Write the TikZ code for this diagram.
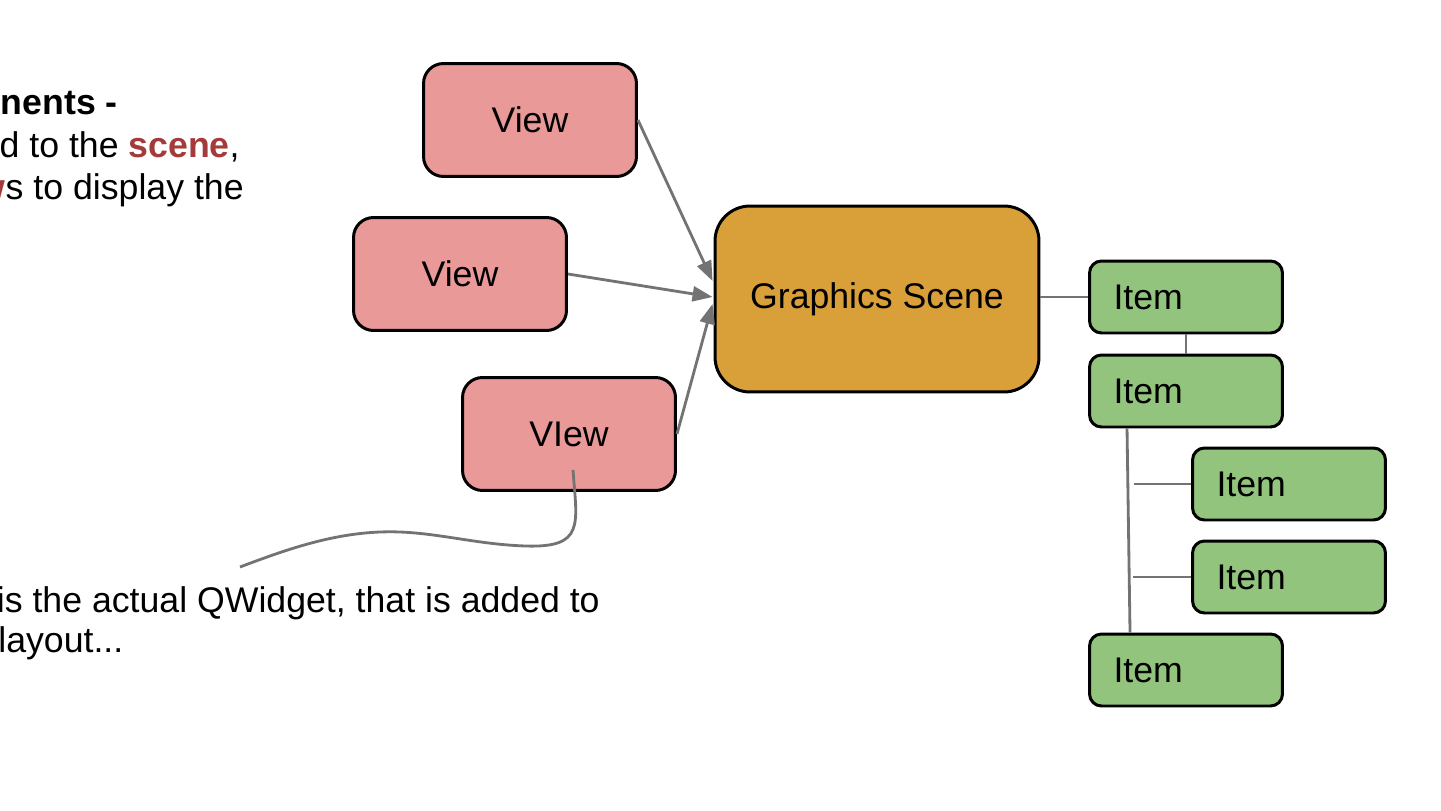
\documentclass[tikz,border=0pt]{standalone}
\usepackage{fontspec}
\setmainfont{Liberation Sans}
\usetikzlibrary{arrows.meta,calc}

\definecolor{viewred}{HTML}{EA9999}
\definecolor{sceneorange}{HTML}{D9A03A}
\definecolor{itemgreen}{HTML}{93C47D}
\definecolor{linkgray}{HTML}{737373}
\definecolor{hilite}{HTML}{A33B3B}

\begin{document}
\begin{tikzpicture}[
  x=0.02cm, y=-0.02cm,
  every node/.style={inner sep=1pt, font=\fontsize{20.3pt}{24pt}\selectfont},
  view/.style={rectangle, draw, line width=1.7pt, rounded corners=0.4cm,
    fill=viewred, minimum width=4.26cm, minimum height=2.26cm},
  scene/.style={rectangle, draw, line width=1.7pt, rounded corners=0.7cm,
    fill=sceneorange, minimum width=6.48cm, minimum height=3.72cm},
  item/.style={rectangle, draw, line width=1.7pt, rounded corners=0.24cm,
    fill=itemgreen, text width=2.9cm, inner xsep=0.48cm, align=left,
    minimum height=1.44cm},
  note/.style={inner sep=0pt},
  % gray connectors: arrows from the views, plain lines in the item tree
  arrow/.style={draw=linkgray, line width=1.6pt,
    -{Triangle[length=0.4cm, width=0.3cm]}},
  link/.style={draw=linkgray, line width=1.6pt}]

  \useasboundingbox (0,0) rectangle (1441,811);
  \clip (0,0) rectangle (1441,811);

  % vertices
  \node[view]  (v1)    at (530,120)  {View};
  \node[view]  (v2)    at (460,274)  {View};
  \node[view]  (v3)    at (569,434)  {VIew};
  \node[scene] (scene) at (877,299)  {Graphics Scene};
  \node[item]  (i1)    at (1186,297) {Item};
  \node[item]  (i2)    at (1186,391) {Item};
  \node[item]  (i3)    at (1289,484) {Item};
  \node[item]  (i4)    at (1289,577) {Item};
  \node[item]  (i5)    at (1186,670) {Item};

  % arrows
  \draw[arrow] (v1.east) -- ($(scene.west)+(-1,-18)$);
  \draw[arrow] (v2.east) -- ($(scene.west)+(-1,-2)$);
  \draw[arrow] (v3.east) -- ($(scene.west)+(-1,5)$);

  % item tree
  \coordinate (trunktop) at ($(i2.south west)+(39,0)$);
  \coordinate (trunkbot) at ($(i5.north west)+(42,0)$);
  \coordinate (b3) at ($(i3.west)+(-57,0)$);
  \coordinate (b4) at ($(i4.west)+(-58,0)$);
  \draw[link] (scene.east |- i1.west) -- (i1.west);
  \draw[link] (i1.south) -- (i2.north);
  \draw[link] (trunktop) -- (trunkbot);
  \draw[link] (b3) -- (i3.west);
  \draw[link] (b4) -- (i4.west);

  % pointer from the view to its note
  \coordinate (tailstart) at (573,470);
  \coordinate (tailend)   at (240,567);
  \draw[link] (tailstart) .. controls (577,525) and (585,548) .. (525,546)
    .. controls (470,544) and (430,530) .. (380,532)
    .. controls (330,534) and (285,550) .. (tailend);

  % notes, cut at the left edge
  \node[note, anchor=base east] (n1) at (118,114) {\textbf{Components -}};
  \node[note, anchor=base east] (n2) at (240,157)
    {added to the \textbf{\color{hilite}scene},};
  \node[note, anchor=base east] (n3) at (244,199)
    {\textbf{\color{hilite}view}s to display the};
  \node[note, anchor=base east] (n4) at (600,612)
    {is the actual QWidget, that is added to};
  \node[note, anchor=base west] (n5) at (-2,652) {layout...};
\end{tikzpicture}
\end{document}
